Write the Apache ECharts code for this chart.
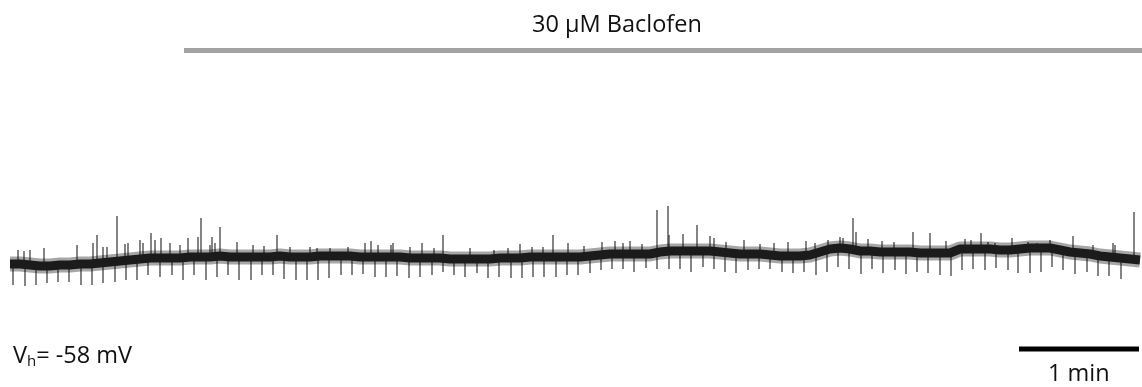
<!doctype html>
<html lang="en">

<head>
	<meta charset="UTF-8">
	<title>Baclofen trace</title>
	<script src="https://cdnjs.cloudflare.com/ajax/libs/echarts/6.0.0/echarts.min.js"></script>
	<style>
		html, body { margin: 0; padding: 0; background: #fff; }
		#main { width: 1142px; height: 387px; }
	</style>
</head>

<body>
	<div id="main"></div>
	<script type="text/javascript">
		// time in s, current in pA (relative to holding level)
		var baselineStep = 5;
		var baseline = [-2, -2, -3, -4, -4, -3, -3, -2, -2, -1, 0, 1, 2, 3, 4, 4, 4, 4, 5, 5,
			5, 6, 5, 5, 5, 5, 5, 6, 5, 5, 5, 6, 6, 6, 6, 5, 5, 5, 5, 5,
			4, 4, 4, 4, 3, 3, 3, 3, 3, 4, 4, 4, 5, 5, 5, 5, 5, 5, 6, 7,
			8, 8, 8, 8, 8, 10, 11, 11, 11, 11, 11, 10, 9, 8, 8, 8, 7, 6, 6, 6,
			7, 10, 13, 14, 13, 11, 11, 10, 10, 10, 10, 9, 9, 9, 9, 13, 13, 13, 13, 12,
			12, 13, 14, 14, 14, 12, 10, 9, 8, 6, 5, 4, 3, 2];

		// downward events: [time, tip]
		var downEvents = [[1.5, -23], [7.5, -24], [13, -23], [18.5, -21], [24, -20], [29.5, -20], [35.5, -23], [41, -23],
			[46.5, -21], [52.5, -20], [58, -18], [63.5, -18], [69, -13], [75, -15], [81, -13], [86.5, -18], [92, -13],
			[98, -18], [103.5, -15], [109, -13], [114.5, -18], [120.5, -18], [126, -13], [131.5, -13], [137, -17],
			[143, -18], [148.5, -18], [154, -18], [159.5, -16], [165.5, -13], [171, -13], [176.5, -12], [182.5, -15],
			[188, -15], [193.5, -14], [199.5, -16], [205, -15], [211, -13], [216.5, -10], [222, -13], [227.5, -15],
			[233.5, -11], [239, -16], [244.5, -15], [250.5, -16], [256, -16], [261.5, -15], [267, -15], [273, -15],
			[278.5, -13], [284, -13], [290, -11], [295.5, -8], [301, -7], [306.5, -7], [312, -10], [318, -6],
			[323.5, -7], [329.5, -7], [335, -7], [340.5, -10], [346.5, -5], [352, -7], [357.5, -10], [363, -11],
			[369, -8], [374.5, -7], [380, -7], [386, -10], [391.5, -11], [397, -10], [403, -13], [408.5, -10],
			[414, -5], [419.5, -7], [425.5, -12], [431, -7], [436.5, -11], [442.5, -8], [448, -12], [453.5, -10],
			[459, -11], [465, -13], [470.5, -14], [476, -8], [481.5, -7], [487.5, -8], [493, -6], [499, -8],
			[504, -11], [510, -11], [515.5, -10], [521, -5], [526.5, -8], [532.5, -12], [538.5, -10], [544, -14],
			[549.5, -14], [555.5, -17]];

		// upward events: [time, peak]
		var upEvents = [[4, 12], [7, 11], [10, 12], [17, 14], [33.5, 17], [41.5, 19], [43.5, 27], [46.5, 15],
			[48.5, 15], [53.5, 46], [57.5, 18], [59, 19], [65, 22], [66.5, 19], [70.5, 29], [72.5, 22], [75.5, 24],
			[80, 19], [85, 17], [89, 24], [94, 25], [95.5, 44], [100, 17], [101, 25], [102.5, 19], [105, 35],
			[113.5, 20], [121.5, 17], [127, 16], [133.5, 27], [140, 15],
			[150, 15], [153.5, 14], [160, 14], [169, 15], [177.5, 19], [180.5, 21], [184, 17], [190.5, 17], [191.5, 19],
			[200, 15], [206, 19], [212, 14], [216.5, 27], [230, 14], [242, 12], [249, 14], [255, 18], [261, 15],
			[266.5, 15], [271.5, 27], [279, 19], [287, 16],
			[296, 20], [302.5, 21], [306.5, 19], [310, 21], [316, 18], [323.5, 52], [329, 56], [329.5, 27],
			[336.5, 28], [343.5, 37], [350, 26], [352, 24], [358, 20], [367, 22], [375, 18], [382, 19], [389, 20],
			[398, 21], [402.5, 19], [409, 22], [415, 25], [416.5, 24], [421.5, 44], [423, 30],
			[429, 23], [436, 21], [442, 20], [451.5, 30], [460, 29], [468, 21], [477.5, 23], [480.5, 22],
			[485.5, 29], [489, 20], [492.5, 19], [501, 24], [509, 20], [513.5, 19], [520, 22], [531.5, 26],
			[541.5, 17], [551.5, 19], [552.5, 17], [562, 50]];

		var baclofenStart = 87;
		var scaleBarSeconds = 60;

		var baselineData = baseline.map(function (v, i) { return [i * baselineStep, v]; });

		function baseAt(t) {
			var i = Math.max(0, Math.min(baseline.length - 1, Math.round(t / baselineStep)));
			return baseline[i];
		}

		function renderSpike(params, api) {
			var t = api.value(0);
			var p0 = api.coord([t, baseAt(t)]);
			var p1 = api.coord([t, api.value(1)]);
			return {
				type: 'line',
				shape: { x1: p0[0], y1: p0[1], x2: p0[0], y2: p1[1] },
				style: { stroke: '#333', lineWidth: 1.2 }
			};
		}

		var myChart = echarts.init(document.getElementById('main'));

		var textFont = 'Open Sans';

		option = {
			animation: false,
			backgroundColor: '#fff',
			textStyle: { fontFamily: textFont },
			grid: { left: 10, right: 0, top: 0, bottom: 0 },
			xAxis: { type: 'value', min: 0, max: 566, show: false },
			yAxis: { type: 'value', min: -125, max: 262, show: false },
			graphic: [
				{
					type: 'text', left: 532, top: 13,
					style: { text: '30 µM Baclofen', fontSize: 23.5, fontFamily: textFont, fill: '#111' }
				},
				{
					type: 'text', left: 13, top: 344,
					style: {
						text: '{v|V}{s|h}{v|= -58 mV}',
						rich: {
							v: { fontSize: 23.5, fontFamily: textFont, fill: '#111' },
							s: { fontSize: 15, fontFamily: textFont, fill: '#111', padding: [12, 0, 0, 0] }
						}
					}
				},
				{
					type: 'text', left: 1048, top: 362,
					style: { text: '1 min', fontSize: 23.5, fontFamily: textFont, fill: '#111' }
				}
			],
			series: [
				{
					type: 'line',
					data: [[baclofenStart, 211.5], [566, 211.5]],
					showSymbol: false,
					lineStyle: { color: '#a3a3a3', width: 5, cap: 'butt' },
					silent: true
				},
				{
					type: 'line',
					data: [[504.5, -87], [504.5 + scaleBarSeconds, -87]],
					showSymbol: false,
					lineStyle: { color: '#000', width: 5, cap: 'butt' },
					silent: true
				},
				{
					type: 'line',
					data: baselineData,
					showSymbol: false,
					lineStyle: { color: '#000', width: 15, opacity: 0.35, cap: 'butt' },
					silent: true
				},
				{
					type: 'custom',
					renderItem: renderSpike,
					data: downEvents,
					silent: true
				},
				{
					type: 'custom',
					renderItem: renderSpike,
					data: upEvents,
					silent: true
				},
				{
					type: 'line',
					data: baselineData,
					showSymbol: false,
					lineStyle: { color: '#1b1b1b', width: 9, cap: 'butt' },
					silent: true
				}
			]
		};
		myChart.setOption(option);
	</script>
</body>

</html>
